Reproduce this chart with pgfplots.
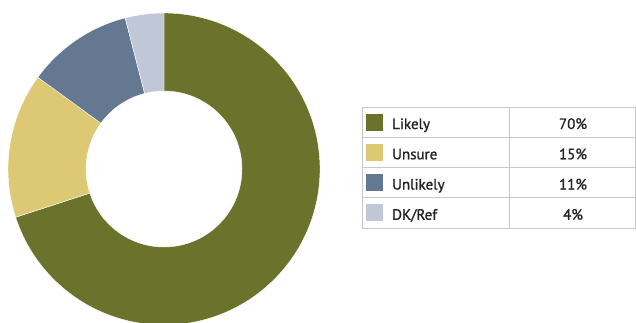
\documentclass[border=0pt]{standalone}
\usepackage{pgfplots}
\pgfplotsset{compat=1.18}
\usepackage{pgfplotstable}
\usepackage{fontspec}
\setmainfont{PT Sans}
\newfontfamily\tabfont[FakeBold=1.2]{PT Sans}
\definecolor{c0}{RGB}{107,114,44}
\definecolor{c1}{RGB}{221,200,115}
\definecolor{c2}{RGB}{100,120,145}
\definecolor{c3}{RGB}{192,200,215}
\definecolor{gridgray}{RGB}{200,200,200}
\definecolor{txt}{RGB}{35,35,35}
\pgfplotstableread{
label value
Likely 70
Unsure 15
Unlikely 11
DK/Ref 4
}\datatable
\begin{document}
\begin{tikzpicture}
\def\cum{90}
\pgfplotsforeachungrouped \i in {0,...,3}{%
 \pgfplotstablegetelem{\i}{value}\of\datatable
 \expandafter\xdef\csname val\i\endcsname{\pgfplotsretval}%
 \pgfmathsetmacro\endang{\cum-3.6*\pgfplotsretval}%
 \expandafter\xdef\csname as\i\endcsname{\cum}%
 \expandafter\xdef\csname ae\i\endcsname{\endang}%
 \xdef\cum{\endang}%
 \pgfplotstablegetelem{\i}{label}\of\datatable
 \expandafter\xdef\csname lab\i\endcsname{\pgfplotsretval}%
}
\begin{axis}[scale only axis, width=636pt, height=322pt,
  xmin=0, xmax=636, ymin=0, ymax=322, hide axis, clip=true]
\pgfplotsinvokeforeach{0,...,3}{
 \fill[c#1, draw=white, line width=0.4pt]
   ([shift={(\csname as#1\endcsname:156pt)}]axis cs:164,153)
   arc[start angle=\csname as#1\endcsname, end angle=\csname ae#1\endcsname, radius=156pt]
   -- ([shift={(\csname ae#1\endcsname:78pt)}]axis cs:164,153)
   arc[start angle=\csname ae#1\endcsname, end angle=\csname as#1\endcsname, radius=78pt]
   -- cycle;
}
\pgfplotsinvokeforeach{0,...,3}{
 \fill[c#1] (axis cs:366,{322-113.5-30.25*#1}) rectangle (axis cs:383,{322-130.5-30.25*#1});
 \node[anchor=base west, text=txt, inner sep=0pt, font=\tabfont\fontsize{15}{18}\selectfont]
   at (axis cs:392,{322-129-30.25*#1}) {\csname lab#1\endcsname};
 \node[anchor=base, text=txt, inner sep=0pt, font=\tabfont\fontsize{15}{18}\selectfont]
   at (axis cs:573,{322-129-30.25*#1}) {\csname val#1\endcsname\%};
}
\pgfplotsinvokeforeach{1,2,3}{
 \draw[gridgray, line width=0.8pt] (axis cs:362,{322-107-30.25*#1}) -- (axis cs:635,{322-107-30.25*#1});
}
\draw[gridgray, line width=0.8pt] (axis cs:509,215) -- (axis cs:509,94);
\draw[gridgray, line width=0.8pt] (axis cs:362,215) rectangle (axis cs:635,94);
\end{axis}
\pgfresetboundingbox
\path (0,0) rectangle (636pt,322pt);
\end{tikzpicture}
\end{document}
